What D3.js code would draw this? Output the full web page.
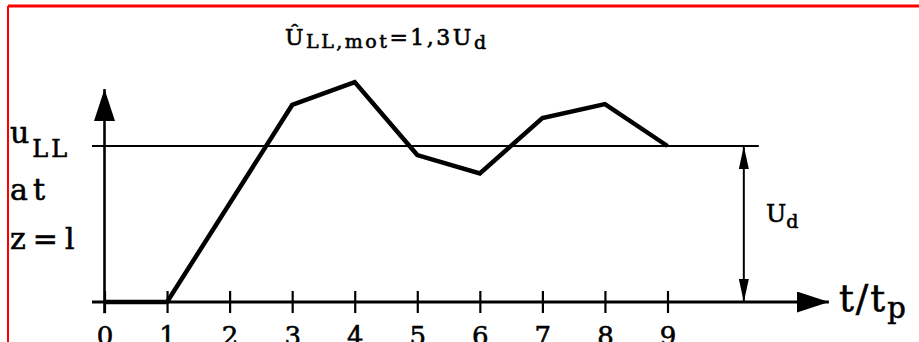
<!DOCTYPE html>
<html>
<head>
<meta charset="utf-8">
<script src="https://cdn.jsdelivr.net/npm/d3@7"></script>
<style>
  body { margin: 0; background: #fff; }
  svg text { font-family: "DejaVu Serif", serif; fill: #000; stroke: #000; stroke-width: 0.6px; }
</style>
</head>
<body>
<div id="chart"></div>
<script>
// time in units of t_p, line-to-line voltage in units of U_d
var tValues = [0, 1, 3, 4, 5, 6, 7, 8, 9];
var uValues = [0, 0, 1.263, 1.41, 0.942, 0.824, 1.179, 1.269, 1.0];
var tickLabels = ["0", "1", "2", "3", "4", "5", "6", "7", "8", "9"];
var refLevel = 1.0;

var width = 919, height = 342;

var svg = d3.select("#chart").append("svg")
    .attr("width", width)
    .attr("height", height);

var x = d3.scaleLinear().domain([0, 9]).range([104.5, 667.5]);
var y = d3.scaleLinear().domain([0, 1]).range([302, 146]);

// red frame (top + left only)
svg.append("line")
    .attr("x1", 8).attr("x2", width).attr("y1", 6).attr("y2", 6)
    .attr("stroke", "#f00").attr("stroke-width", 3);
svg.append("line")
    .attr("x1", 8).attr("x2", 8).attr("y1", 6).attr("y2", height)
    .attr("stroke", "#f00").attr("stroke-width", 2);

var defs = svg.append("defs");
defs.append("marker")
    .attr("id", "bigHead")
    .attr("viewBox", "0 0 32 21")
    .attr("refX", 32).attr("refY", 10.5)
    .attr("markerWidth", 32).attr("markerHeight", 21)
    .attr("markerUnits", "userSpaceOnUse")
    .attr("orient", "auto")
    .append("path").attr("d", "M0,0 L32,10.5 L0,21 Z").attr("fill", "#000");
defs.append("marker")
    .attr("id", "smallHead")
    .attr("viewBox", "0 0 23 10")
    .attr("refX", 23).attr("refY", 5)
    .attr("markerWidth", 23).attr("markerHeight", 10)
    .attr("markerUnits", "userSpaceOnUse")
    .attr("orient", "auto-start-reverse")
    .append("path").attr("d", "M0,0 L23,5 L0,10 Z").attr("fill", "#000");

// reference level u_LL = U_d
svg.append("line")
    .attr("x1", x(-0.2)).attr("x2", x(10.46))
    .attr("y1", y(refLevel)).attr("y2", y(refLevel))
    .attr("stroke", "#000").attr("stroke-width", 2);

// x axis with ticks
var xAxis = d3.axisBottom(x)
    .tickValues(d3.range(0, 10))
    .tickFormat(function (d, i) { return tickLabels[i]; })
    .tickSize(11)
    .tickPadding(14);

var gx = svg.append("g")
    .attr("transform", "translate(0," + y(0) + ")")
    .call(xAxis);
gx.select(".domain").remove();
gx.selectAll(".tick line")
    .attr("y1", -11)
    .attr("stroke", "#000")
    .attr("stroke-width", 2.2);
gx.selectAll(".tick text")
    .style("font-family", "'DejaVu Serif', serif")
    .style("font-size", "26px")
    .attr("fill", "#000");

svg.append("line")
    .attr("x1", x(-0.2)).attr("x2", x(11.58))
    .attr("y1", y(0)).attr("y2", y(0))
    .attr("stroke", "#000").attr("stroke-width", 2.8)
    .attr("marker-end", "url(#bigHead)");

// y axis
svg.append("line")
    .attr("x1", x(0)).attr("x2", x(0))
    .attr("y1", y(-0.072)).attr("y2", y(1.365))
    .attr("stroke", "#000").attr("stroke-width", 2.6)
    .attr("marker-end", "url(#bigHead)");

// U_d dimension arrow
svg.append("line")
    .attr("x1", x(10.22)).attr("x2", x(10.22))
    .attr("y1", y(0)).attr("y2", y(refLevel))
    .attr("stroke", "#000").attr("stroke-width", 2)
    .attr("marker-start", "url(#smallHead)")
    .attr("marker-end", "url(#smallHead)");

// voltage curve
var line = d3.line()
    .x(function (d, i) { return x(tValues[i]); })
    .y(function (d) { return y(d); });

svg.append("path")
    .datum(uValues)
    .attr("d", line)
    .attr("fill", "none")
    .attr("stroke", "#000")
    .attr("stroke-width", 4.5)
    .attr("stroke-linejoin", "miter");

// labels
var yl = svg.append("text").attr("x", 10).attr("y", 143)
    .style("font-size", "30px").style("letter-spacing", "3px");
yl.append("tspan").text("u");
yl.append("tspan").attr("dy", 14).style("font-size", "24px").text("LL");
svg.append("text").attr("x", 10).attr("y", 200)
    .style("font-size", "30px").style("letter-spacing", "5px").text("at");
svg.append("text").attr("x", 10).attr("y", 249)
    .style("font-size", "30px").style("letter-spacing", "7px").text("z=l");

var ud = svg.append("text").attr("x", 766).attr("y", 222).style("font-size", "24px");
ud.append("tspan").text("U");
ud.append("tspan").attr("dy", 6).style("font-size", "19px").text("d");

var tl = svg.append("text").attr("x", 839).attr("y", 311)
    .style("font-size", "37px").style("letter-spacing", "2px");
tl.append("tspan").text("t/t");
tl.append("tspan").attr("dy", 7).style("font-size", "29px").text("p");

var title = svg.append("text").attr("x", 285).attr("y", 45)
    .style("font-size", "22px").style("letter-spacing", "2.5px");
title.append("tspan").text("\u00db");
title.append("tspan").attr("dy", 3).style("font-size", "19px").text("LL,mot");
title.append("tspan").attr("dy", -3).text("=1,3U");
title.append("tspan").attr("dy", 4).style("font-size", "19px").text("d");
</script>
</body>
</html>
